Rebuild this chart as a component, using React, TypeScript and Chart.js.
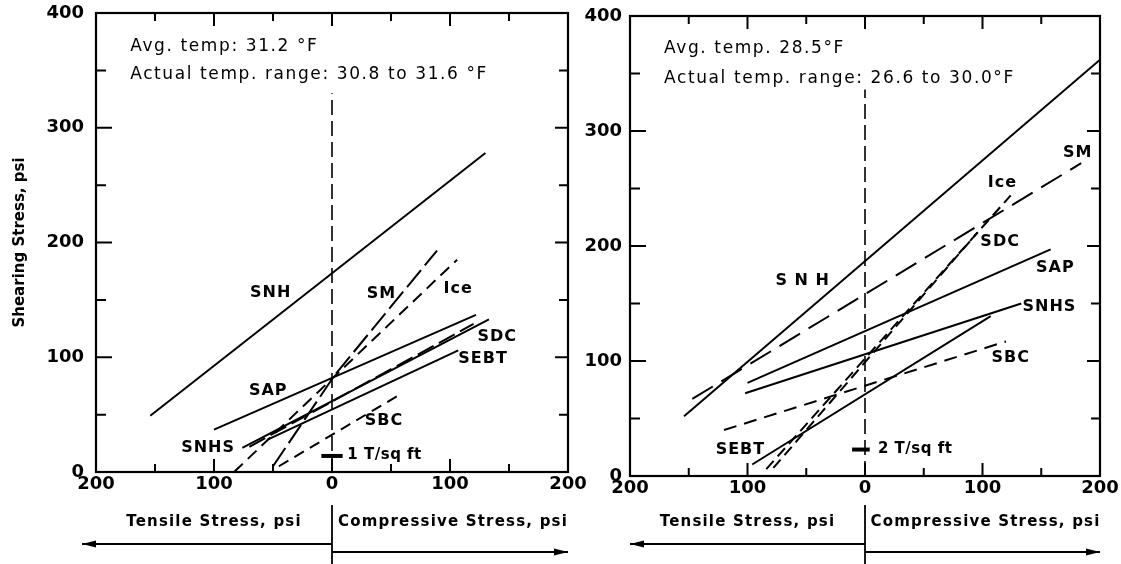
import React, { useEffect, useRef } from 'react';
import { Chart, registerables } from 'chart.js';

Chart.register(...registerables);

const FONT = '"DejaVu Sans", "Liberation Sans", sans-serif';

// Axis ticks (labels show absolute value: tensile to the left, compressive to the right)
const xTickValues = [-200, -100, 0, 100, 200];
const yTickValues = [0, 100, 200, 300, 400];
const minorStep = 50;

type Pt = { x: number; y: number };

// ---------- Left panel: Avg. temp 31.2 °F ----------
const leftSNH: Pt[] = [{ x: -154, y: 49 }, { x: 130, y: 278 }];
const leftSAP: Pt[] = [{ x: -100, y: 37 }, { x: 122, y: 137 }];
const leftSM: Pt[] = [{ x: -50, y: 5 }, { x: 2, y: 84 }, { x: 89, y: 193 }];
const leftIce: Pt[] = [{ x: -83, y: 0 }, { x: 106, y: 185 }];
const leftSNHS: Pt[] = [{ x: -76, y: 21 }, { x: 133, y: 133 }];
const leftSDC: Pt[] = [{ x: -70, y: 22 }, { x: 120, y: 129 }];
const leftSEBT: Pt[] = [{ x: -55, y: 28 }, { x: 107, y: 106 }];
const leftSBC: Pt[] = [{ x: -45, y: 5 }, { x: 60, y: 69 }];
const leftZeroLine: Pt[] = [{ x: 0, y: 0 }, { x: 0, y: 330 }];
const leftLoadMark: Pt[] = [{ x: -9, y: 14 }, { x: 9, y: 14 }];

// ---------- Right panel: Avg. temp 28.5 °F ----------
const rightSNH: Pt[] = [{ x: -154, y: 52 }, { x: 200, y: 362 }];
const rightSM: Pt[] = [{ x: -147, y: 67 }, { x: 184, y: 272 }];
const rightIce: Pt[] = [{ x: -84, y: 6 }, { x: 124, y: 244 }];
const rightSDC: Pt[] = [{ x: -78, y: 7 }, { x: 96, y: 212 }];
const rightSAP: Pt[] = [{ x: -100, y: 81 }, { x: 158, y: 197 }];
const rightSNHS: Pt[] = [{ x: -102, y: 72 }, { x: 133, y: 150 }];
const rightSBC: Pt[] = [{ x: -120, y: 40 }, { x: 120, y: 117 }];
const rightSEBT: Pt[] = [{ x: -96, y: 10 }, { x: 107, y: 139 }];
const rightZeroLine: Pt[] = [{ x: 0, y: 0 }, { x: 0, y: 336 }];
const rightLoadMark: Pt[] = [{ x: -11, y: 23 }, { x: 4, y: 23 }];

// Text labels (anchored in data coordinates)
const leftCurveLabels = [
  { text: 'SNH', x: -52, y: 156 },
  { text: 'SAP', x: -54, y: 71 },
  { text: 'SNHS', x: -105, y: 21 },
  { text: 'SM', x: 42, y: 155 },
  { text: 'Ice', x: 107, y: 160 },
  { text: 'SDC', x: 140, y: 118 },
  { text: 'SEBT', x: 128, y: 99 },
  { text: 'SBC', x: 44, y: 45 },
];
const rightCurveLabels = [
  { text: 'S N H', x: -53, y: 170 },
  { text: 'SM', x: 181, y: 281 },
  { text: 'Ice', x: 117, y: 255 },
  { text: 'SDC', x: 115, y: 204 },
  { text: 'SAP', x: 162, y: 181 },
  { text: 'SNHS', x: 157, y: 147 },
  { text: 'SBC', x: 124, y: 103 },
  { text: 'SEBT', x: -106, y: 23 },
];
const leftNotes = [
  { text: 'Avg. temp: 31.2 °F', x: -171, y: 371 },
  { text: 'Actual temp. range: 30.8 to 31.6 °F', x: -171, y: 346 },
];
const rightNotes = [
  { text: 'Avg. temp. 28.5°F', x: -171, y: 372 },
  { text: 'Actual temp. range: 26.6 to 30.0°F', x: -171, y: 346 },
];
const leftLoadNote = [{ text: '1 T/sq ft', x: 13, y: 15 }];
const rightLoadNote = [{ text: '2 T/sq ft', x: 11, y: 23 }];

type Series = { label: string; data: Pt[]; dash: number[]; width?: number };

type PanelCfg = {
  series: Series[];
  curveLabels: { text: string; x: number; y: number }[];
  notes: { text: string; x: number; y: number }[];
  loadNote: { text: string; x: number; y: number }[];
  yWidth: number;
  xHeight: number;
  padTop: number;
  padRight: number;
  yLabelPad: number;
  yTitle?: string;
  arrowLeftX: number;
};

const leftCfg: PanelCfg = {
  series: [
    { label: 'zero', data: leftZeroLine, dash: [15, 6], width: 1.6 },
    { label: 'load', data: leftLoadMark, dash: [], width: 4 },
    { label: 'SNH', data: leftSNH, dash: [] },
    { label: 'SAP', data: leftSAP, dash: [] },
    { label: 'SM', data: leftSM, dash: [22, 6] },
    { label: 'Ice', data: leftIce, dash: [12, 7] },
    { label: 'SNHS', data: leftSNHS, dash: [] },
    { label: 'SDC', data: leftSDC, dash: [18, 6] },
    { label: 'SEBT', data: leftSEBT, dash: [] },
    { label: 'SBC', data: leftSBC, dash: [11, 7] },
  ],
  curveLabels: leftCurveLabels,
  notes: leftNotes,
  loadNote: leftLoadNote,
  yWidth: 96,
  xHeight: 92,
  padTop: 13,
  padRight: 32,
  yLabelPad: 12,
  yTitle: 'Shearing Stress, psi',
  arrowLeftX: 82,
};

const rightCfg: PanelCfg = {
  series: [
    { label: 'zero', data: rightZeroLine, dash: [15, 6], width: 1.6 },
    { label: 'load', data: rightLoadMark, dash: [], width: 4 },
    { label: 'SNH', data: rightSNH, dash: [] },
    { label: 'SM', data: rightSM, dash: [24, 10] },
    { label: 'Ice', data: rightIce, dash: [11, 6] },
    { label: 'SDC', data: rightSDC, dash: [11, 6] },
    { label: 'SAP', data: rightSAP, dash: [] },
    { label: 'SNHS', data: rightSNHS, dash: [] },
    { label: 'SBC', data: rightSBC, dash: [13, 8] },
    { label: 'SEBT', data: rightSEBT, dash: [] },
  ],
  curveLabels: rightCurveLabels,
  notes: rightNotes,
  loadNote: rightLoadNote,
  yWidth: 58,
  xHeight: 88,
  padTop: 16,
  padRight: 21,
  yLabelPad: 8,
  arrowLeftX: 58,
};

function arrowLine(ctx: CanvasRenderingContext2D, xFrom: number, xTo: number, y: number) {
  ctx.beginPath();
  ctx.moveTo(xFrom, y);
  ctx.lineTo(xTo, y);
  ctx.stroke();
  const dir = xTo > xFrom ? 1 : -1;
  ctx.beginPath();
  ctx.moveTo(xTo, y);
  ctx.lineTo(xTo - dir * 14, y - 3.5);
  ctx.lineTo(xTo - dir * 14, y + 3.5);
  ctx.closePath();
  ctx.fill();
}

function decorPlugin(cfg: PanelCfg) {
  return {
    id: 'decor',
    afterDatasetsDraw(chart: any) {
      const { ctx, chartArea: a, scales } = chart;
      const xs = scales.x;
      const ys = scales.y;
      ctx.save();
      ctx.strokeStyle = '#000';
      ctx.fillStyle = '#000';
      ctx.setLineDash([]);
      ctx.lineWidth = 2.2;
      ctx.strokeRect(a.left, a.top, a.right - a.left, a.bottom - a.top);

      // inward tick marks
      ctx.lineWidth = 2;
      for (let v = -200 + minorStep; v < 200; v += minorStep) {
        const px = xs.getPixelForValue(v);
        const len = v % 100 === 0 ? 13 : 8;
        ctx.beginPath();
        ctx.moveTo(px, a.bottom);
        ctx.lineTo(px, a.bottom - len);
        ctx.moveTo(px, a.top);
        ctx.lineTo(px, a.top + len);
        ctx.stroke();
      }
      for (let v = minorStep; v < 400; v += minorStep) {
        const py = ys.getPixelForValue(v);
        const major = v % 100 === 0;
        ctx.beginPath();
        ctx.moveTo(a.left, py);
        ctx.lineTo(a.left + (major ? 16 : 10), py);
        ctx.moveTo(a.right, py);
        ctx.lineTo(a.right - (major ? 13 : 9), py);
        ctx.stroke();
      }

      const c: any = ctx;
      // curve labels
      ctx.font = `bold 16px ${FONT}`;
      c.letterSpacing = '1px';
      ctx.textAlign = 'center';
      ctx.textBaseline = 'middle';
      for (const l of cfg.curveLabels) {
        ctx.fillText(l.text, xs.getPixelForValue(l.x), ys.getPixelForValue(l.y));
      }
      // notes
      ctx.font = `17px ${FONT}`;
      c.letterSpacing = '1.6px';
      ctx.textAlign = 'left';
      for (const n of cfg.notes) {
        ctx.fillText(n.text, xs.getPixelForValue(n.x), ys.getPixelForValue(n.y));
      }
      ctx.font = `bold 15px ${FONT}`;
      c.letterSpacing = '0.5px';
      for (const n of cfg.loadNote) {
        ctx.fillText(n.text, xs.getPixelForValue(n.x), ys.getPixelForValue(n.y));
      }

      // below-axis titles and arrows
      const x0 = xs.getPixelForValue(0);
      ctx.font = `bold 15px ${FONT}`;
      c.letterSpacing = '1.2px';
      ctx.textAlign = 'center';
      ctx.fillText('Tensile Stress, psi', (a.left + x0) / 2, 522);
      ctx.fillText('Compressive Stress, psi', (x0 + a.right) / 2 + 3, 522);
      c.letterSpacing = '0px';
      ctx.lineWidth = 1.8;
      ctx.beginPath();
      ctx.moveTo(x0, 505);
      ctx.lineTo(x0, 564);
      ctx.stroke();
      arrowLine(ctx, x0, cfg.arrowLeftX, 544);
      arrowLine(ctx, x0, a.right, 552);
      ctx.restore();
    },
  };
}

function Panel({ cfg, left, width }: { cfg: PanelCfg; left: number; width: number }) {
  const ref = useRef<HTMLCanvasElement>(null);
  useEffect(() => {
    const canvas = ref.current;
    if (!canvas) return;
    const tickFont = { family: FONT, size: 18, weight: 'bold' };
    const chart = new Chart(canvas, {
      type: 'scatter',
      data: {
        datasets: cfg.series.map((s) => ({
          label: s.label,
          data: s.data,
          showLine: true,
          borderColor: '#000',
          backgroundColor: '#000',
          borderWidth: s.width ?? 2,
          borderDash: s.dash,
          borderCapStyle: 'butt',
          pointRadius: 0,
          pointHoverRadius: 0,
          fill: false,
          tension: 0,
        })),
      },
      options: {
        responsive: false,
        animation: false,
        events: [],
        layout: { padding: { left: 0, top: cfg.padTop, right: cfg.padRight, bottom: 0 } },
        plugins: {
          legend: { display: false },
          tooltip: { enabled: false },
          title: { display: false },
        },
        scales: {
          x: {
            type: 'linear',
            min: -200,
            max: 200,
            afterBuildTicks: (s: any) => {
              s.ticks = xTickValues.map((v) => ({ value: v }));
            },
            ticks: {
              callback: (v: any) => String(Math.abs(Number(v))),
              maxRotation: 0,
              autoSkip: false,
              padding: 2,
              color: '#000',
              font: tickFont,
            },
            grid: { display: false, drawTicks: false },
            border: { display: false },
            afterFit: (s: any) => {
              s.height = cfg.xHeight;
              s.paddingLeft = 0;
              s.paddingRight = 0;
            },
          },
          y: {
            type: 'linear',
            min: 0,
            max: 400,
            afterBuildTicks: (s: any) => {
              s.ticks = yTickValues.map((v) => ({ value: v }));
            },
            ticks: {
              autoSkip: false,
              padding: cfg.yLabelPad,
              color: '#000',
              font: tickFont,
            },
            grid: { display: false, drawTicks: false },
            border: { display: false },
            title: cfg.yTitle
              ? {
                  display: true,
                  text: cfg.yTitle,
                  color: '#000',
                  font: { family: FONT, size: 15, weight: 'bold' },
                  padding: { top: 11, bottom: 0 },
                }
              : { display: false },
            afterFit: (s: any) => {
              s.width = cfg.yWidth;
              s.paddingTop = 0;
              s.paddingBottom = 0;
            },
          },
        },
      } as any,
      plugins: [decorPlugin(cfg)],
    });
    return () => chart.destroy();
  }, [cfg]);
  return (
    <canvas
      ref={ref}
      width={width}
      height={564}
      style={{ position: 'absolute', left, top: 0, width, height: 564 }}
    />
  );
}

export default function App() {
  return (
    <div style={{ position: 'fixed', left: 0, top: 0, width: 1121, height: 564, background: '#fff', overflow: 'hidden' }}>
      <Panel cfg={leftCfg} left={0} width={600} />
      <Panel cfg={rightCfg} left={572} width={549} />
    </div>
  );
}
